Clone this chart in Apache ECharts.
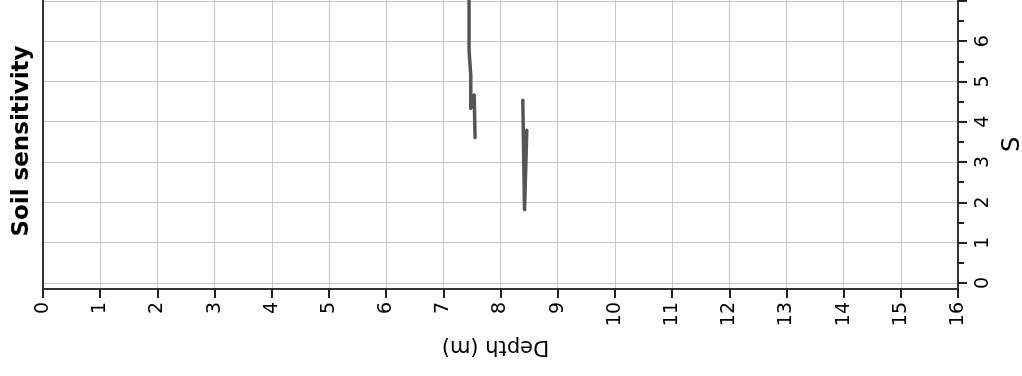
<!DOCTYPE html>
<html>
<head>
<meta charset="utf-8">
<script src="https://cdn.jsdelivr.net/npm/echarts@6/dist/echarts.min.js"></script>
<style>
html,body{margin:0;padding:0;background:#fff;}
#chart{width:1022px;height:376px;}
</style>
</head>
<body>
<div id="chart"></div>
<script>
// Data: [depth (m), S]
const seriesA = [[7.45, 7.10], [7.45, 5.78], [7.48, 5.15], [7.48, 4.33], [7.54, 4.66], [7.555, 3.61]];
const seriesB = [[8.39, 4.53], [8.42, 1.82], [8.46, 3.79]];
const xTicks = [0,1,2,3,4,5,6,7,8,9,10,11,12,13,14,15,16];
const yMajorTicks = [0,1,2,3,4,5,6,7];
const yLabels = [0,1,2,3,4,5,6];
const yMinorTicks = [0.5,1.5,2.5,3.5,4.5,5.5,6.5];

const FONT = '"DejaVu Sans", sans-serif';
const chart = echarts.init(document.getElementById('chart'), null, {renderer: 'canvas'});
const YMIN = -0.15, YMAX = 7.02;
const gridBox = {left: 43, right: 64, top: 0, bottom: 87, containLabel: false, outerBoundsMode: 'none'};
chart.setOption({
  animation: false,
  backgroundColor: '#ffffff',
  grid: [Object.assign({}, gridBox), Object.assign({}, gridBox)],
  graphic: [{
    type: 'text', x: 22, y: 141, rotation: Math.PI / 2,
    style: {text: 'Soil sensitivity', font: 'bold 23px ' + FONT, fill: '#000', align: 'center', verticalAlign: 'middle'}
  }],
  xAxis: [{
    gridIndex: 0, type: 'value', min: 0, max: 16, interval: 1,
    name: 'Depth (m)', nameLocation: 'middle', nameGap: 47, nameRotate: 180,
    nameTextStyle: {fontFamily: FONT, fontSize: 21, color: '#000', padding: [0, 0, 0, 10]},
    axisLine: {show: true, onZero: false, lineStyle: {color: '#333', width: 2}},
    axisTick: {show: true, length: 9, lineStyle: {color: '#222', width: 2}, customValues: xTicks},
    axisLabel: {rotate: 90, margin: 13, fontFamily: FONT, fontSize: 19, color: '#000', customValues: xTicks},
    splitLine: {show: true, lineStyle: {color: '#c8c8c8', width: 1}}
  }, {
    gridIndex: 1, type: 'value', min: 0, max: 16, interval: 1, show: false
  }],
  yAxis: [{
    gridIndex: 0, type: 'value', position: 'right', min: YMIN, max: YMAX, interval: 1,
    name: 'S', nameLocation: 'middle', nameGap: 37, nameRotate: 90,
    nameTextStyle: {fontFamily: FONT, fontSize: 24, color: '#000'},
    axisLine: {show: true, onZero: false, lineStyle: {color: '#333', width: 2}},
    axisTick: {show: true, length: 9, lineStyle: {color: '#222', width: 2}, customValues: yMajorTicks},
    axisLabel: {rotate: 90, margin: 16, fontFamily: FONT, fontSize: 19, color: '#000', customValues: yLabels},
    splitLine: {show: true, lineStyle: {color: '#c8c8c8', width: 1}}
  }, {
    gridIndex: 0, type: 'value', position: 'left', min: YMIN, max: YMAX, interval: 1,
    axisLine: {show: true, onZero: false, lineStyle: {color: '#333', width: 2}},
    axisTick: {show: false},
    axisLabel: {show: false},
    splitLine: {show: false}
  }, {
    gridIndex: 1, type: 'value', position: 'right', min: YMIN, max: YMAX, interval: 1,
    axisLine: {show: false, onZero: false},
    axisTick: {show: true, length: 6, lineStyle: {color: '#222', width: 2}, customValues: yMinorTicks},
    axisLabel: {show: false},
    splitLine: {show: false}
  }],
  series: [{
    type: 'line', xAxisIndex: 0, yAxisIndex: 0, data: seriesA, showSymbol: false, clip: true,
    lineStyle: {color: '#555555', width: 3.5, cap: 'round', join: 'round'}, z: 5
  }, {
    type: 'line', xAxisIndex: 0, yAxisIndex: 0, data: seriesB, showSymbol: false, clip: true,
    lineStyle: {color: '#555555', width: 3.5, cap: 'round', join: 'round'}, z: 5
  }]
});
</script>
</body>
</html>
